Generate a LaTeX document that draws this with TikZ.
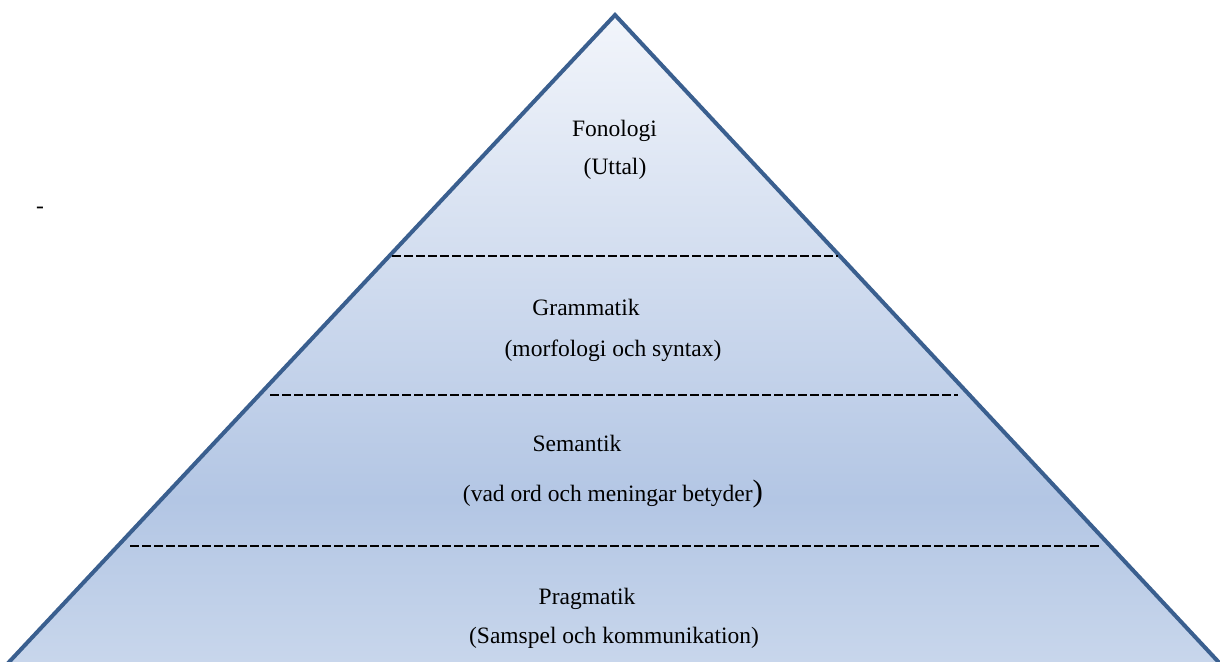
\documentclass[tikz,border=0pt]{standalone}
\usepackage{fontspec}
\setmainfont{Liberation Serif}
\definecolor{edge}{HTML}{3A5F8F}
\definecolor{ctop}{HTML}{F2F5FB}
\definecolor{cmid}{HTML}{B3C6E4}
\definecolor{cbot}{HTML}{C9D7EC}
\pgfdeclareverticalshading{pyr}{100bp}{color(0bp)=(cbot); color(25bp)=(cbot); color(38bp)=(cmid); color(75bp)=(ctop); color(100bp)=(ctop)}
\begin{document}
\begin{tikzpicture}[x=1pt,y=-1pt,
  lbl/.style={font=\fontsize{23.5}{26}\selectfont, inner sep=0pt, anchor=base},
  divider/.style={dash pattern=on 9pt off 3pt, line width=2.2pt, black}]
\useasboundingbox (0,0) rectangle (1220,661);
\path[shading=pyr, draw=edge, line width=4pt, line join=miter]
  (1.6,670) -- (615,15) -- (1226,670) -- cycle;
\draw[divider] (392,256) -- (838,256);
\draw[divider] (270,395) -- (958,395);
\draw[divider] (130,546) -- (1100,546);
\node[lbl] (fon) at (614.5,136) {Fonologi};
\node[lbl] (utt) at (615,174) {(Uttal)};
\node[lbl] (gra) at (586,315) {Grammatik};
\node[lbl] (mor) at (613,356) {(morfologi och syntax)};
\node[lbl] (sem) at (577,451) {Semantik};
\node[lbl] (vad) at (613,501) {(vad ord och meningar betyder{\fontsize{31}{31}\selectfont )}};
\node[lbl] (pra) at (587,604) {Pragmatik};
\node[lbl] (sam) at (614,643) {(Samspel och kommunikation)};
\node[lbl] (dash) at (40,213) {-};
\end{tikzpicture}
\end{document}
